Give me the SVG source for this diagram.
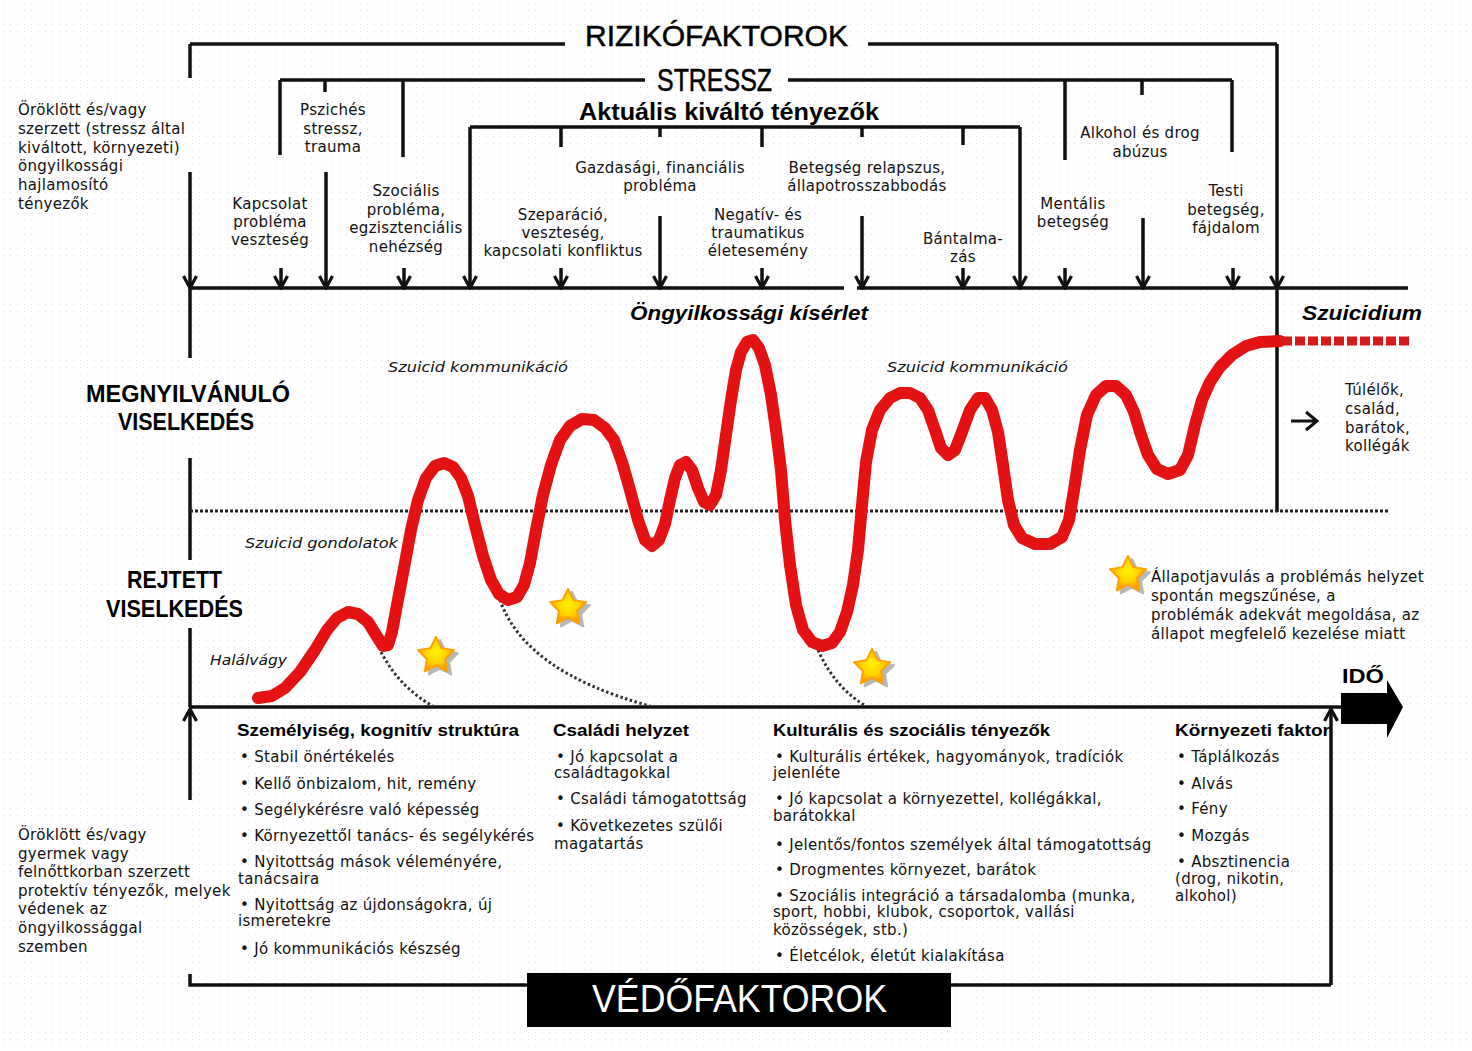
<svg xmlns="http://www.w3.org/2000/svg" width="1472" height="1051" viewBox="0 0 1472 1051">
<defs>
<style>
.t{font-family:"DejaVu Sans",sans-serif;font-size:15px;letter-spacing:0.3px;fill:#111}
.c{text-anchor:middle}
.ln{stroke:#111;stroke-width:3.5;fill:none}
.ar{stroke:#111;stroke-width:3.5;fill:none;marker-end:url(#ah)}
.big{font-family:"Liberation Sans",sans-serif;fill:#000}
.bb{font-family:"Liberation Sans",sans-serif;font-weight:bold;fill:#000}
.it{font-family:"DejaVu Sans",sans-serif;font-style:italic;font-size:14px;fill:#111}
.bi{font-family:"Liberation Sans",sans-serif;font-weight:bold;font-style:italic;font-size:21px;fill:#000}
.h{font-family:"Liberation Sans",sans-serif;font-weight:bold;font-size:17px;fill:#000}
.dot{stroke:#333;stroke-width:3;fill:none;stroke-dasharray:2.5 2.5}
</style>
<marker id="ah" markerUnits="userSpaceOnUse" viewBox="-14 -8 16 16" markerWidth="16" markerHeight="16" refX="0" refY="0" orient="auto">
<path d="M-12,-6.5 L0,0 L-12,6.5" stroke="#111" stroke-width="3.2" fill="none"/>
</marker>
<radialGradient id="sg" cx="50%" cy="45%" r="55%">
<stop offset="0" stop-color="#fff500"/><stop offset="0.55" stop-color="#ffd200"/><stop offset="1" stop-color="#ff8c00"/>
</radialGradient>
<pattern id="dots" width="7" height="7" patternUnits="userSpaceOnUse"><circle cx="3.5" cy="3.5" r="0.6" fill="#dcdcdc"/></pattern>
<g id="star">
<polygon points="0,-19 5.58,-7.69 18.07,-5.87 9.04,2.94 11.17,15.37 0,9.5 -11.17,15.37 -9.04,2.94 -18.07,-5.87 -5.58,-7.69" transform="translate(4,3)" fill="#999" opacity="0.7" stroke="#999" stroke-width="2" stroke-linejoin="round"/>
<polygon points="0,-19 5.58,-7.69 18.07,-5.87 9.04,2.94 11.17,15.37 0,9.5 -11.17,15.37 -9.04,2.94 -18.07,-5.87 -5.58,-7.69" fill="url(#sg)" stroke="#ffa200" stroke-width="2" stroke-linejoin="round"/>
</g>
</defs>
<rect width="1472" height="1051" fill="#fff"/>
<rect width="1472" height="1051" fill="url(#dots)"/>

<g id="connectors">
<path class="ln" d="M190,44 H565 M868,44 H1277 M1277,288 V512"/>
<path class="ar" d="M1277,44 V288"/>
<path class="ln" d="M190,44 V78"/>
<path class="ar" d="M190,172 V288"/>
<path class="ln" d="M280,80 H645 M788,80 H1232 M280,80 V155 M403,80 V157 M325,80 V92 M1065,80 V160 M1142,80 V95 M1232,80 V152"/>
<path class="ln" d="M470,127 H1020 M561,127 V147 M660,127 V137 M762,127 V147 M862,127 V137 M963,127 V145"/>
<path class="ar" d="M470,127 V288"/>
<path class="ar" d="M1020,127 V288"/>
<path class="ar" d="M281,268 V288"/>
<path class="ar" d="M404,268 V288"/>
<path class="ar" d="M561,268 V288"/>
<path class="ar" d="M762,268 V288"/>
<path class="ar" d="M963,268 V288"/>
<path class="ar" d="M1065,268 V288"/>
<path class="ar" d="M1233,268 V288"/>
<path class="ar" d="M326,172 V288"/>
<path class="ar" d="M660,216 V288"/>
<path class="ar" d="M862,216 V288"/>
<path class="ar" d="M1143,218 V288"/>
<path class="ln" d="M190,288 H844 M857,288 H1408"/>
<path class="ln" d="M190,288 V358 M190,458 V560 M190,628 V707"/>
<path d="M190,511 H1388" stroke="#222" stroke-width="3" stroke-dasharray="3 2" fill="none"/>
<path class="ln" d="M190,707 H1342"/>
<path class="ar" d="M190,800 V709"/>
<path class="ar" d="M1331,985 V709"/>
<path class="ln" d="M190,974 V985 H527 M951,985 H1331"/>
<path class="dot" d="M381,652 Q400,688 433,706"/>
<path class="dot" d="M500,600 Q525,672 650,706"/>
<path class="dot" d="M818,650 Q835,688 866,706"/>
<path d="M1291,421 H1316 M1306,412 L1317,421 L1306,430" stroke="#111" stroke-width="3" fill="none"/>
<polygon points="1341,693 1387,693 1387,680 1403,707 1387,738 1387,724 1341,724" fill="#000"/>
</g>

<g id="curve">
<polyline fill="none" stroke="#e41212" stroke-width="12" stroke-linejoin="round" stroke-linecap="round" points="258,698 272,696 285,688 300,672 315,650 327,630 337,618 348,612 358,614 368,622 376,635 383,646 388,645 392,632 397,605 404,568 411,530 418,500 426,478 435,466 444,463 453,467 461,478 468,496 475,525 483,556 491,580 499,594 508,600 517,597 524,585 530,563 536,530 543,495 551,465 560,440 570,426 582,419 594,420 605,428 614,440 622,462 630,490 638,520 645,540 652,546 659,540 665,524 670,500 675,478 680,465 686,462 692,470 698,488 704,502 710,505 716,495 721,470 726,435 731,400 736,370 741,352 747,342 753,340 759,348 765,365 771,395 776,430 781,470 785,520 790,565 796,605 803,630 812,642 822,646 832,643 840,632 847,612 853,585 858,550 862,505 866,462 872,430 880,410 890,398 900,393 910,393 920,398 928,410 935,430 941,448 948,455 955,450 962,432 970,410 978,398 985,398 992,410 998,432 1003,465 1008,500 1014,525 1022,538 1035,544 1050,544 1062,537 1069,520 1074,490 1080,450 1087,415 1096,395 1106,386 1116,386 1126,395 1134,412 1141,435 1148,455 1157,469 1168,474 1180,470 1188,455 1195,425 1202,400 1210,382 1220,367 1232,355 1246,346 1260,342 1280,341"/>
<path d="M1282,341 H1410" stroke="#d41a1a" stroke-width="9" stroke-dasharray="10 3" fill="none"/>
</g>

<g id="stars">
<use href="#star" x="436" y="656"/>
<use href="#star" x="568" y="608"/>
<use href="#star" x="872" y="668"/>
<use href="#star" x="1128" y="575"/>
</g>

<g id="title-risk"><text class="big" x="585" y="46" font-size="30" textLength="263" lengthAdjust="spacingAndGlyphs" stroke="#000" stroke-width="0.5">RIZIKÓFAKTOROK</text></g>
<g id="title-stress"><text class="big" x="657" y="91" font-size="31" textLength="115" lengthAdjust="spacingAndGlyphs" stroke="#000" stroke-width="0.5">STRESSZ</text></g>
<g id="title-trigger"><text class="bb" x="579" y="120" font-size="23" textLength="300" lengthAdjust="spacingAndGlyphs">Aktuális kiváltó tényezők</text></g>

<g id="risk-left"><text class="t" x="18" y="115">Öröklött és/vagy</text><text class="t" x="18" y="134">szerzett (stressz által</text><text class="t" x="18" y="153">kiváltott, környezeti)</text><text class="t" x="18" y="171">öngyilkossági</text><text class="t" x="18" y="190">hajlamosító</text><text class="t" x="18" y="209">tényezők</text></g>

<g id="n-pszich"><text class="t c" x="333" y="115">Pszichés</text><text class="t c" x="333" y="134">stressz,</text><text class="t c" x="333" y="152">trauma</text></g>
<g id="n-kapcs"><text class="t c" x="270" y="209">Kapcsolat</text><text class="t c" x="270" y="227">probléma</text><text class="t c" x="270" y="245">veszteség</text></g>
<g id="n-szoc"><text class="t c" x="406" y="196">Szociális</text><text class="t c" x="406" y="215">probléma,</text><text class="t c" x="406" y="233">egzisztenciális</text><text class="t c" x="406" y="252">nehézség</text></g>
<g id="n-gazd"><text class="t c" x="660" y="173">Gazdasági, financiális</text><text class="t c" x="660" y="191">probléma</text></g>
<g id="n-szep"><text class="t c" x="563" y="220">Szeparáció,</text><text class="t c" x="563" y="238">veszteség,</text><text class="t c" x="563" y="256">kapcsolati konfliktus</text></g>
<g id="n-neg"><text class="t c" x="758" y="220">Negatív- és</text><text class="t c" x="758" y="238">traumatikus</text><text class="t c" x="758" y="256">életesemény</text></g>
<g id="n-beteg"><text class="t c" x="867" y="173">Betegség relapszus,</text><text class="t c" x="867" y="191">állapotrosszabbodás</text></g>
<g id="n-bant"><text class="t c" x="963" y="244">Bántalma-</text><text class="t c" x="963" y="262">zás</text></g>
<g id="n-alk"><text class="t c" x="1140" y="138">Alkohol és drog</text><text class="t c" x="1140" y="157">abúzus</text></g>
<g id="n-ment"><text class="t c" x="1073" y="209">Mentális</text><text class="t c" x="1073" y="227">betegség</text></g>
<g id="n-testi"><text class="t c" x="1226" y="196">Testi</text><text class="t c" x="1226" y="215">betegség,</text><text class="t c" x="1226" y="233">fájdalom</text></g>

<g id="labels-behav">
<text class="bb" x="86" y="402" font-size="23" textLength="204" lengthAdjust="spacingAndGlyphs">MEGNYILVÁNULÓ</text>
<text class="bb" x="118" y="430" font-size="23" textLength="136" lengthAdjust="spacingAndGlyphs">VISELKEDÉS</text>
<text class="bb" x="127" y="588" font-size="23" textLength="95" lengthAdjust="spacingAndGlyphs">REJTETT</text>
<text class="bb" x="106" y="617" font-size="23" textLength="137" lengthAdjust="spacingAndGlyphs">VISELKEDÉS</text>
</g>
<g id="labels-curve">
<text class="bi" x="630" y="320" textLength="238" lengthAdjust="spacingAndGlyphs">Öngyilkossági kísérlet</text>
<text class="bi" x="1302" y="320" textLength="120" lengthAdjust="spacingAndGlyphs">Szuicidium</text>
<text class="it" x="388" y="372" textLength="180" lengthAdjust="spacingAndGlyphs">Szuicid kommunikáció</text>
<text class="it" x="887" y="372" textLength="181" lengthAdjust="spacingAndGlyphs">Szuicid kommunikáció</text>
<text class="it" x="245" y="548" textLength="153" lengthAdjust="spacingAndGlyphs">Szuicid gondolatok</text>
<text class="it" x="210" y="665" textLength="77" lengthAdjust="spacingAndGlyphs">Halálvágy</text>
</g>
<g id="survivors"><text class="t" x="1345" y="395">Túlélők,</text><text class="t" x="1345" y="414">család,</text><text class="t" x="1345" y="433">barátok,</text><text class="t" x="1345" y="451">kollégák</text></g>
<g id="improve"><text class="t" x="1151" y="582">Állapotjavulás a problémás helyzet</text><text class="t" x="1151" y="601">spontán megszűnése, a</text><text class="t" x="1151" y="620">problémák adekvát megoldása, az</text><text class="t" x="1151" y="639">állapot megfelelő kezelése miatt</text></g>
<g id="time"><text class="bb" x="1342" y="683" font-size="21" textLength="42" lengthAdjust="spacingAndGlyphs">IDŐ</text></g>

<g id="protect-left"><text class="t" x="18" y="840">Öröklött és/vagy</text><text class="t" x="18" y="859">gyermek vagy</text><text class="t" x="18" y="877">felnőttkorban szerzett</text><text class="t" x="18" y="896">protektív tényezők, melyek</text><text class="t" x="18" y="914">védenek az</text><text class="t" x="18" y="933">öngyilkossággal</text><text class="t" x="18" y="952">szemben</text></g>

<g id="col-szemelyiseg">
<text class="h" x="237" y="736" textLength="282" lengthAdjust="spacingAndGlyphs">Személyiség, kognitív struktúra</text>
<text class="t" x="240" y="762">• Stabil önértékelés</text>
<text class="t" x="240" y="789">• Kellő önbizalom, hit, remény</text>
<text class="t" x="240" y="815">• Segélykérésre való képesség</text>
<text class="t" x="240" y="841">• Környezettől tanács- és segélykérés</text>
<text class="t" x="240" y="867">• Nyitottság mások véleményére,</text>
<text class="t" x="238" y="884">tanácsaira</text>
<text class="t" x="240" y="910">• Nyitottság az újdonságokra, új</text>
<text class="t" x="238" y="926">ismeretekre</text>
<text class="t" x="240" y="954">• Jó kommunikációs készség</text>
</g>
<g id="col-csaladi">
<text class="h" x="553" y="736" textLength="136" lengthAdjust="spacingAndGlyphs">Családi helyzet</text>
<text class="t" x="556" y="762">• Jó kapcsolat a</text>
<text class="t" x="554" y="778">családtagokkal</text>
<text class="t" x="556" y="804">• Családi támogatottság</text>
<text class="t" x="556" y="831">• Következetes szülői</text>
<text class="t" x="554" y="849">magatartás</text>
</g>
<g id="col-kulturalis">
<text class="h" x="773" y="736" textLength="277" lengthAdjust="spacingAndGlyphs">Kulturális és szociális tényezők</text>
<text class="t" x="775" y="762">• Kulturális értékek, hagyományok, tradíciók</text>
<text class="t" x="773" y="778">jelenléte</text>
<text class="t" x="775" y="804">• Jó kapcsolat a környezettel, kollégákkal,</text>
<text class="t" x="773" y="821">barátokkal</text>
<text class="t" x="775" y="850">• Jelentős/fontos személyek által támogatottság</text>
<text class="t" x="775" y="875">• Drogmentes környezet, barátok</text>
<text class="t" x="775" y="901">• Szociális integráció a társadalomba (munka,</text>
<text class="t" x="773" y="917">sport, hobbi, klubok, csoportok, vallási</text>
<text class="t" x="773" y="935">közösségek, stb.)</text>
<text class="t" x="775" y="961">• Életcélok, életút kialakítása</text>
</g>
<g id="col-kornyezeti">
<text class="h" x="1175" y="736" textLength="155" lengthAdjust="spacingAndGlyphs">Környezeti faktor</text>
<text class="t" x="1177" y="762">• Táplálkozás</text>
<text class="t" x="1177" y="789">• Alvás</text>
<text class="t" x="1177" y="814">• Fény</text>
<text class="t" x="1177" y="841">• Mozgás</text>
<text class="t" x="1177" y="867">• Absztinencia</text>
<text class="t" x="1175" y="884">(drog, nikotin,</text>
<text class="t" x="1175" y="901">alkohol)</text>
</g>
<g id="title-protect">
<rect x="527" y="973" width="424" height="54" fill="#000"/>
<text class="big" x="592" y="1012" font-size="38" fill="#fff" style="fill:#fff" textLength="295" lengthAdjust="spacingAndGlyphs">VÉDŐFAKTOROK</text>
</g>
</svg>
